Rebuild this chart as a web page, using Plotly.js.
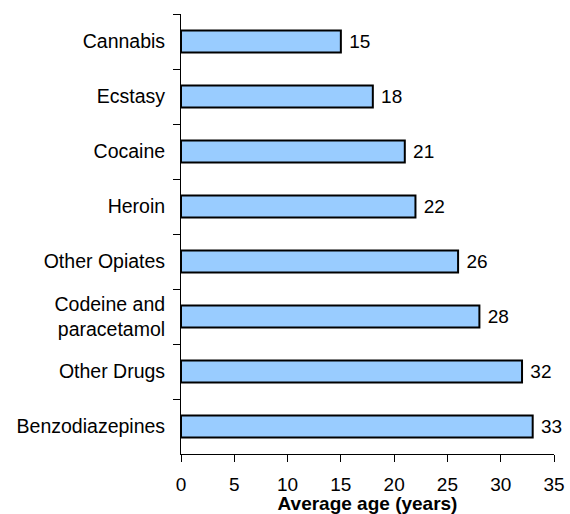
<!DOCTYPE html>
<html>
<head>
<meta charset="utf-8">
<script src="https://cdn.plot.ly/plotly-3.0.1.min.js"></script>
<style>
  html, body { margin: 0; padding: 0; background: #fff; }
  #chart { width: 570px; height: 514px; }
</style>
</head>
<body>
<div id="chart"></div>
<script>
// Average age by drug type, listed top to bottom
const drugs = [
  "Cannabis",
  "Ecstasy",
  "Cocaine",
  "Heroin",
  "Other Opiates",
  "Codeine and<br>paracetamol",
  "Other Drugs",
  "Benzodiazepines"
];
const averageAge = [15, 18, 21, 22, 26, 28, 32, 33];
const xTickValues = [0, 5, 10, 15, 20, 25, 30, 35];

const font = "Arial, 'Liberation Sans', Helvetica, sans-serif";

const trace = {
  type: "bar",
  orientation: "h",
  y: drugs,
  x: averageAge,
  text: averageAge.map(v => " " + v),
  textposition: "outside",
  constraintext: "none",
  cliponaxis: false,
  textfont: { family: font, size: 19, color: "#000" },
  marker: { color: "#99CCFF", line: { color: "#000", width: 2 } },
  hoverinfo: "none"
};

const layout = {
  width: 570,
  height: 514,
  margin: { l: 181, r: 16, t: 14, b: 60 },
  paper_bgcolor: "#fff",
  plot_bgcolor: "#fff",
  showlegend: false,
  bargap: 0.6,
  font: { family: font, size: 19, color: "#000" },
  xaxis: {
    range: [0, 35],
    tickvals: xTickValues,
    ticktext: xTickValues.map(String),
    showgrid: false,
    zeroline: false,
    showline: true,
    linecolor: "#000",
    linewidth: 1,
    ticks: "outside",
    ticklen: 7,
    tickcolor: "#000",
    ticklabelstandoff: 6,
    tickfont: { family: font, size: 19, color: "#000" },
    title: {
      text: "<b>Average age (years)</b>",
      font: { family: font, size: 19, color: "#000" },
      standoff: 4
    },
    fixedrange: true
  },
  yaxis: {
    type: "category",
    autorange: "reversed",
    showgrid: false,
    zeroline: false,
    showline: true,
    linecolor: "#000",
    linewidth: 1,
    ticks: "outside",
    tickson: "boundaries",
    ticklen: 7,
    tickcolor: "#000",
    ticklabelstandoff: 11,
    tickfont: { family: font, size: 19.5, color: "#000" },
    fixedrange: true
  }
};

Plotly.newPlot("chart", [trace], layout, { staticPlot: true, displayModeBar: false });
</script>
</body>
</html>
